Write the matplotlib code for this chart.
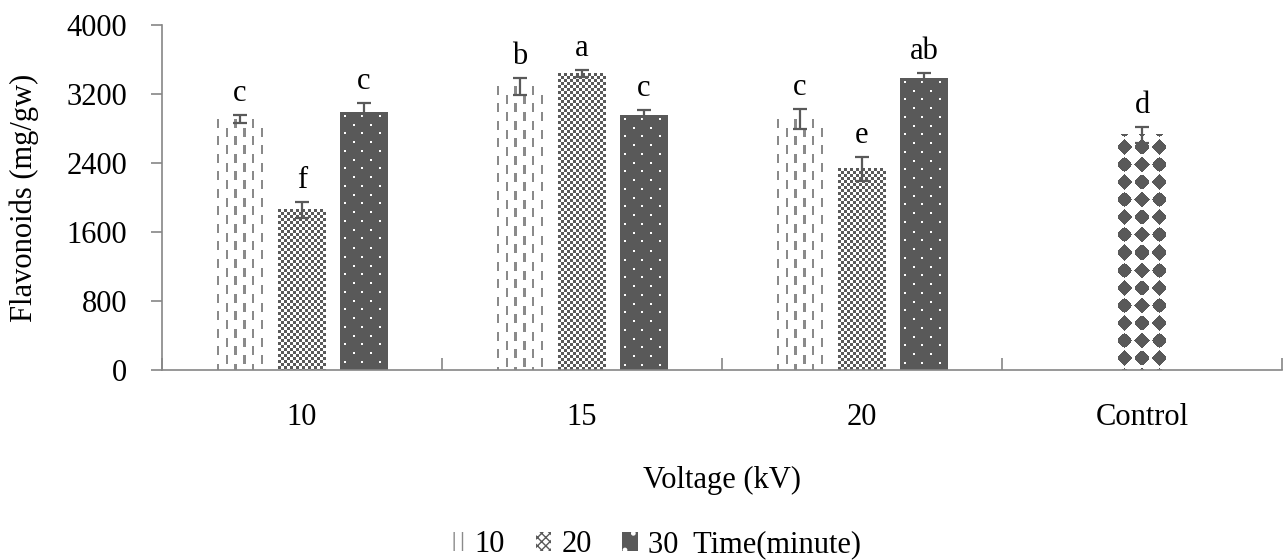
import matplotlib

matplotlib.use("Agg")
import matplotlib.pyplot as plt
import numpy as np
from matplotlib.patches import Patch

plt.rcParams["font.family"] = ["Liberation Serif", "DejaVu Serif"]
plt.rcParams["font.size"] = 22

# data
voltages = ["10", "15", "20"]
times = ["10", "20", "30"]
flav = {
    "10": [2910, 3285, 2910],
    "20": [1858, 3440, 2335],
    "30": [2983, 2945, 3375],
}
flav_err = {
    "10": [46, 97, 116],
    "20": [93, 38, 140],
    "30": [109, 70, 65],
}
letters = {
    "10": ["c", "b", "c"],
    "20": ["f", "a", "e"],
    "30": ["c", "c", "ab"],
}
control_val, control_err, control_letter = 2728, 93, "d"
yticks = [0, 800, 1600, 2400, 3200, 4000]

DARK = "#595959"
GREY = "#8a8a8a"
AXIS = "#868686"


def rgba(mask, fg, bg=None):
    img = np.zeros(mask.shape + (4,))
    if bg is not None:
        img[:] = matplotlib.colors.to_rgba(bg)
    img[mask] = matplotlib.colors.to_rgba(fg)
    return img


# fill textures, built in pixel units of each bar
def tex_dashes(xx, yy, w, h):
    col = np.floor((xx - 1) / 8.75)
    on_col = ((xx - 1) % 8.75) < 2.4
    on_dash = ((yy + (col % 2) * 8.75) % 17.5) < 9
    return rgba(on_col & on_dash, GREY)


def tex_checker(xx, yy, w, h):
    m = ((np.floor(xx / 3) + np.floor(yy / 3)) % 2) == 0
    return rgba(m, DARK, "white")


def tex_dots(xx, yy, w, h):
    row = np.floor((yy - 3) / 8.75)
    m = (((yy - 3) % 8.75) < 2) & (((xx - 4 + (row % 2) * 8.75) % 17.5) < 2)
    return rgba(m, "white", DARK)


def tex_diamonds(xx, yy, w, h):
    dx = ((xx - w / 2 + 8.75) % 17.5) - 8.75
    dy = ((h - yy - 12 + 8.75) % 17.5) - 8.75
    m = (np.abs(dx) ** 1.15 + np.abs(dy) ** 1.15) ** (1 / 1.15) < 7.6
    return rgba(m, DARK, "white")


def paint(ax, bar, fn):
    x0, y0 = bar.get_x(), bar.get_y()
    x1, y1 = x0 + bar.get_width(), y0 + bar.get_height()
    (px0, py0), (px1, py1) = ax.transData.transform([(x0, y0), (x1, y1)])
    w, h = int(round(px1 - px0)), int(round(py1 - py0))
    xx, yy = np.meshgrid(np.arange(w) + 0.5, np.arange(h) + 0.5)
    ax.imshow(fn(xx, yy, w, h), extent=(x0, x1, y0, y1), origin="upper",
              interpolation="nearest", aspect="auto", zorder=2)


fig = plt.figure(figsize=(12.83, 5.6), dpi=100)
ax = fig.add_axes([162 / 1283, 1 - 370 / 560, 1120 / 1283, 345 / 560])
ax.set_xlim(-0.5, 3.5)
ax.set_ylim(0, 4000)

width, step = 0.171, 0.221
x = np.arange(len(voltages))
textures = {"10": tex_dashes, "20": tex_checker, "30": tex_dots}

for i, t in enumerate(times):
    pos = x + (i - 1) * step
    bars = ax.bar(pos, flav[t], width, color="none", edgecolor="none", zorder=2)
    for b in bars:
        paint(ax, b, textures[t])
    ax.errorbar(pos, flav[t], yerr=flav_err[t], fmt="none", ecolor=DARK,
                elinewidth=1.6, capsize=5, capthick=1.6, zorder=4)
    for p, v, e, s in zip(pos, flav[t], flav_err[t], letters[t]):
        ax.annotate(s, (p, v + e), xytext=(0, 5), textcoords="offset points",
                    ha="center", va="bottom")

cbar = ax.bar([3], [control_val], width, color="none", edgecolor="none", zorder=2)
paint(ax, cbar[0], tex_diamonds)
ax.errorbar([3], [control_val], yerr=[control_err], fmt="none", ecolor=DARK,
            elinewidth=1.6, capsize=5, capthick=1.6, zorder=4)
ax.annotate(control_letter, (3, control_val + control_err), xytext=(0, 5),
            textcoords="offset points", ha="center", va="bottom")

ax.set_xlim(-0.5, 3.5)
ax.set_ylim(0, 4000)

ax.set_yticks(yticks)
ax.tick_params(axis="y", direction="out", length=8, width=1.2, color=AXIS, pad=17)
ax.set_xticks([-0.5, 0.5, 1.5, 2.5, 3.5])
ax.set_xticklabels([])
ax.set_xticks(np.arange(4), voltages + ["Control"], minor=True)
ax.tick_params(axis="x", which="major", direction="in", length=9, width=1.2, color=AXIS)
ax.tick_params(axis="x", which="minor", length=0, pad=24)

for s in ["top", "right"]:
    ax.spines[s].set_visible(False)
for s in ["left", "bottom"]:
    ax.spines[s].set_color(AXIS)
    ax.spines[s].set_linewidth(1.2)

ax.set_ylabel("Flavonoids (mg/gw)", labelpad=20)
ax.set_xlabel("Voltage (kV)", labelpad=24)

handles = [
    Patch(facecolor="white", edgecolor=GREY, hatch="||", linewidth=0),
    Patch(facecolor="white", edgecolor=DARK, hatch="xxxx", linewidth=0),
    Patch(facecolor=DARK, edgecolor="white", hatch=".", linewidth=0),
]
fig.legend(handles, ["10", "20", "30  Time(minute)"], loc="center",
           bbox_to_anchor=(655 / 1283, 1 - 545 / 560), ncol=3, frameon=False,
           handlelength=0.5, handleheight=0.55, handletextpad=0.35, columnspacing=1.0)

fig.savefig("out.png", dpi=100)
